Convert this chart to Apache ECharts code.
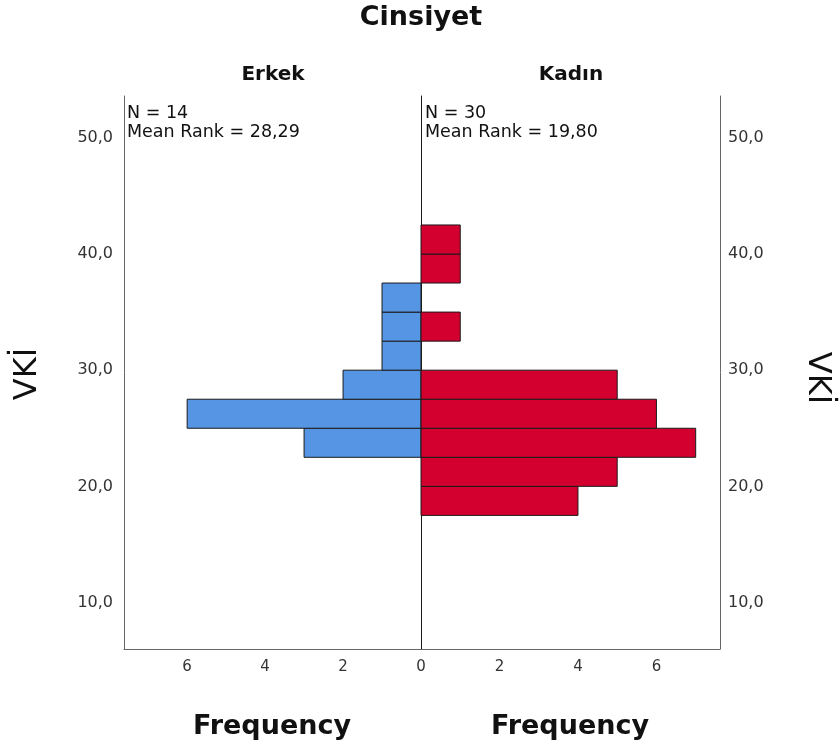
<!DOCTYPE html>
<html>
<head>
<meta charset="utf-8">
<script src="https://cdn.jsdelivr.net/npm/echarts@6/dist/echarts.min.js"></script>
<style>
  html, body { margin: 0; padding: 0; background: #fff; }
  #main { width: 840px; height: 749px; }
</style>
</head>
<body>
<div id="main"></div>
<script>
// VKİ bins (width 2.5)
const binLow = [17.5, 20, 22.5, 25, 27.5, 30, 32.5, 35, 37.5, 40];
const binHigh = [20, 22.5, 25, 27.5, 30, 32.5, 35, 37.5, 40, 42.5];
const erkekCounts = [0, 0, 3, 6, 2, 1, 1, 1, 0, 0];
const kadinCounts = [4, 5, 7, 6, 5, 0, 1, 0, 1, 1];
const yTicks = [10, 20, 30, 40, 50];
const leftXTicks = [2, 4, 6];
const rightXTicks = [0, 2, 4, 6];
const groupNames = ['Erkek', 'Kadın'];
const annotations = [
  ['N = 14', 'Mean Rank = 28,29'],
  ['N = 30', 'Mean Rank = 19,80']
];

const Y_MIN = 6, Y_MAX = 53.6, X_MAX = 7.62;
const FONT = '"DejaVu Sans", sans-serif';

function toRows(counts) {
  return counts.map((c, i) => [binLow[i], binHigh[i], c]);
}

function renderBin(params, api) {
  const n = api.value(2);
  if (!n) return;
  const p0 = api.coord([0, api.value(0)]);
  const p1 = api.coord([n, api.value(1)]);
  return {
    type: 'rect',
    shape: {
      x: Math.min(p0[0], p1[0]),
      y: Math.min(p0[1], p1[1]),
      width: Math.abs(p1[0] - p0[0]),
      height: Math.abs(p1[1] - p0[1])
    },
    style: { fill: api.visual('color'), stroke: '#1b1b1b', lineWidth: 1 }
  };
}

function yAxisFor(grid, pos, showLabels, lineColor, margin) {
  return {
    type: 'value',
    gridIndex: grid,
    position: pos,
    min: Y_MIN,
    max: Y_MAX,
    axisLine: { show: true, onZero: false, lineStyle: { color: lineColor, width: 1 } },
    axisTick: { show: false },
    splitLine: { show: false },
    axisLabel: {
      show: showLabels,
      customValues: yTicks,
      margin: margin,
      color: '#333',
      fontSize: 16,
      fontFamily: FONT,
      formatter: v => v.toFixed(1).replace('.', ',')
    }
  };
}

function xAxisFor(grid, inverse, ticks) {
  return {
    type: 'value',
    gridIndex: grid,
    inverse: inverse,
    min: 0,
    max: X_MAX,
    interval: 2,
    axisLine: { show: true, onZero: false, lineStyle: { color: '#666', width: 1 } },
    axisTick: { show: false },
    splitLine: { show: false },
    axisLabel: {
      customValues: ticks,
      margin: 11,
      color: '#333',
      fontSize: 15,
      fontFamily: FONT
    }
  };
}

function txt(x, y, text, size, weight, align, rot) {
  return {
    type: 'text',
    x: x,
    y: y,
    rotation: rot || 0,
    style: {
      text: text,
      fontSize: size,
      fontWeight: weight,
      fontFamily: FONT,
      fill: '#111',
      align: align || 'center',
      verticalAlign: 'middle'
    }
  };
}

const chart = echarts.init(document.getElementById('main'), null, { renderer: 'canvas' });

chart.setOption({
  animation: false,
  backgroundColor: '#fff',
  grid: [
    { left: 124, right: 419, top: 96, bottom: 100 },
    { left: 421, right: 120, top: 96, bottom: 100 }
  ],
  xAxis: [
    xAxisFor(0, true, leftXTicks),
    xAxisFor(1, false, rightXTicks)
  ],
  yAxis: [
    yAxisFor(0, 'left', true, '#666', 11),
    yAxisFor(1, 'right', true, '#666', 8),
    yAxisFor(1, 'left', false, '#1b1b1b', 8)
  ],
  series: [
    {
      type: 'custom',
      name: groupNames[0],
      xAxisIndex: 0,
      yAxisIndex: 0,
      color: '#5595E3',
      renderItem: renderBin,
      encode: { x: 2, y: [0, 1] },
      data: toRows(erkekCounts)
    },
    {
      type: 'custom',
      name: groupNames[1],
      xAxisIndex: 1,
      yAxisIndex: 1,
      color: '#D3002F',
      renderItem: renderBin,
      encode: { x: 2, y: [0, 1] },
      data: toRows(kadinCounts)
    }
  ],
  graphic: [
    txt(421, 18, 'Cinsiyet', 27, 'bold'),
    txt(273, 75, groupNames[0], 20, 'bold'),
    txt(571, 75, groupNames[1], 20, 'bold'),
    txt(272, 727, 'Frequency', 27, 'bold'),
    txt(570, 727, 'Frequency', 27, 'bold'),
    txt(127, 113, annotations[0][0], 17.5, 'normal', 'left'),
    txt(127, 132, annotations[0][1], 17.5, 'normal', 'left'),
    txt(425, 113, annotations[1][0], 17.5, 'normal', 'left'),
    txt(425, 132, annotations[1][1], 17.5, 'normal', 'left'),
    txt(28, 374, 'VKİ', 32, 'normal', 'center', Math.PI / 2),
    txt(817, 378, 'VKİ', 32, 'normal', 'center', -Math.PI / 2)
  ]
});
</script>
</body>
</html>
